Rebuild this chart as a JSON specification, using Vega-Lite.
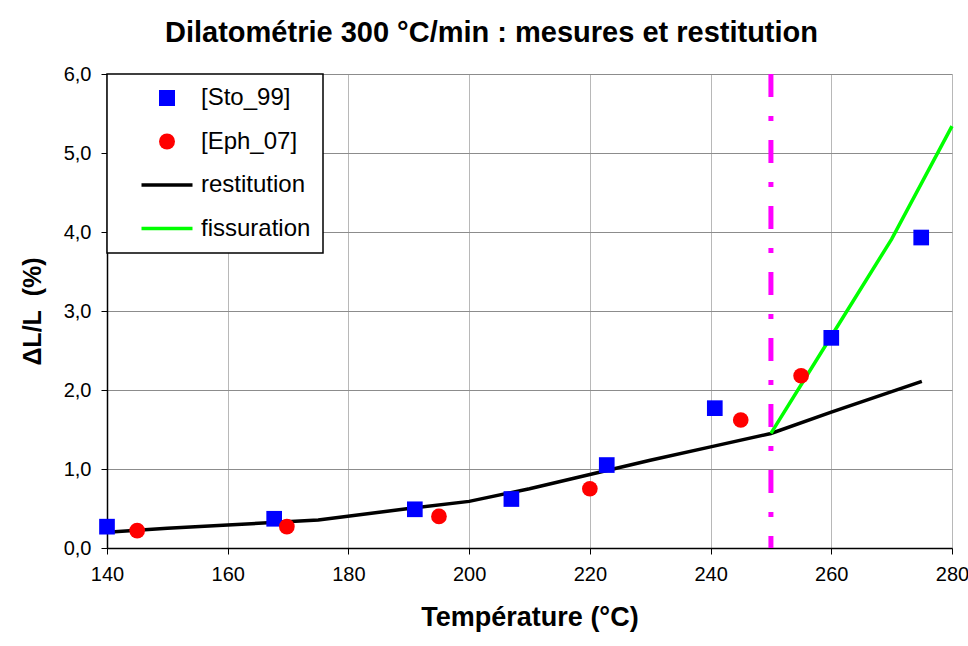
{
  "$schema": "https://vega.github.io/schema/vega-lite/v6.json",
  "width": 845,
  "height": 474,
  "autosize": "none",
  "padding": {"left": 107, "top": 74, "right": 16, "bottom": 98},
  "background": "white",
  "title": {
    "text": "Dilatométrie 300 °C/min : mesures et restitution",
    "font": "Liberation Sans",
    "fontSize": 29,
    "fontWeight": "bold",
    "color": "black",
    "anchor": "middle",
    "dx": -38,
    "offset": 16
  },
  "data": {
    "values": [
      {"series": "[Sto_99]", "T": 140, "v": 0.27},
      {"series": "[Sto_99]", "T": 167.7, "v": 0.37},
      {"series": "[Sto_99]", "T": 191, "v": 0.49},
      {"series": "[Sto_99]", "T": 207, "v": 0.62},
      {"series": "[Sto_99]", "T": 222.8, "v": 1.05},
      {"series": "[Sto_99]", "T": 240.7, "v": 1.77},
      {"series": "[Sto_99]", "T": 260, "v": 2.66},
      {"series": "[Sto_99]", "T": 274.9, "v": 3.93},
      {"series": "[Eph_07]", "T": 145, "v": 0.22},
      {"series": "[Eph_07]", "T": 169.8, "v": 0.27},
      {"series": "[Eph_07]", "T": 195, "v": 0.40},
      {"series": "[Eph_07]", "T": 220, "v": 0.75},
      {"series": "[Eph_07]", "T": 245, "v": 1.62},
      {"series": "[Eph_07]", "T": 255, "v": 2.18},
      {"series": "restitution", "T": 140, "v": 0.20},
      {"series": "restitution", "T": 150, "v": 0.25},
      {"series": "restitution", "T": 160, "v": 0.29},
      {"series": "restitution", "T": 175, "v": 0.355},
      {"series": "restitution", "T": 190, "v": 0.50},
      {"series": "restitution", "T": 200, "v": 0.59},
      {"series": "restitution", "T": 210, "v": 0.75},
      {"series": "restitution", "T": 220, "v": 0.93},
      {"series": "restitution", "T": 230, "v": 1.11},
      {"series": "restitution", "T": 240, "v": 1.28},
      {"series": "restitution", "T": 250, "v": 1.45},
      {"series": "restitution", "T": 260, "v": 1.72},
      {"series": "restitution", "T": 270, "v": 1.98},
      {"series": "restitution", "T": 275, "v": 2.11},
      {"series": "fissuration", "T": 250, "v": 1.45},
      {"series": "fissuration", "T": 260, "v": 2.68},
      {"series": "fissuration", "T": 270, "v": 3.91},
      {"series": "fissuration", "T": 280, "v": 5.34},
      {"series": "seuil", "T": 250}
    ]
  },
  "encoding": {
    "x": {
      "field": "T",
      "type": "quantitative",
      "scale": {"domain": [140, 280], "nice": false, "zero": false},
      "axis": {
        "title": "Température (°C)",
        "values": [140, 160, 180, 200, 220, 240, 260, 280],
        "format": "d",
        "labelFlush": false,
        "gridColor": "#b8b8b8",
        "gridWidth": 1,
        "domainColor": "black",
        "domainWidth": 1.5,
        "tickColor": "black",
        "tickSize": 6,
        "tickWidth": 1,
        "labelFont": "Liberation Sans",
        "labelFontSize": 20,
        "labelColor": "black",
        "labelPadding": 10,
        "titleFont": "Liberation Sans",
        "titleFontSize": 27,
        "titleFontWeight": "bold",
        "titleColor": "black",
        "titlePadding": 20
      }
    },
    "y": {
      "field": "v",
      "type": "quantitative",
      "scale": {"domain": [0, 6], "nice": false},
      "axis": {
        "title": "ΔL/L\u00a0\u00a0(%)",
        "values": [0, 1, 2, 3, 4, 5, 6],
        "labelExpr": "replace(format(datum.value, '.1f'), '.', ',')",
        "labelFlush": false,
        "gridColor": "#8c8c8c",
        "gridWidth": 1,
        "domainColor": "black",
        "domainWidth": 1.5,
        "tickColor": "black",
        "tickSize": 6,
        "tickWidth": 1,
        "labelFont": "Liberation Sans",
        "labelFontSize": 20,
        "labelColor": "black",
        "labelPadding": 10,
        "titleFont": "Liberation Sans",
        "titleFontSize": 25,
        "titleFontWeight": "bold",
        "titleColor": "black",
        "titlePadding": 18
      }
    }
  },
  "layer": [
    {
      "transform": [{"filter": "datum.series === 'restitution' || datum.series === 'fissuration'"}],
      "mark": {"type": "line", "strokeWidth": 3.5},
      "encoding": {
        "detail": {"field": "series"},
        "color": {
          "field": "series",
          "type": "nominal",
          "scale": {
            "domain": ["[Sto_99]", "[Eph_07]", "restitution", "fissuration"],
            "range": ["#0000ff", "#ff0000", "#000000", "#00ff00"]
          },
          "legend": {
            "title": null,
            "orient": "none",
            "legendX": 0,
            "legendY": 0,
            "padding": 12,
            "symbolOffset": 36,
            "labelOffset": 22,
            "symbolSize": 256,
            "rowPadding": 19.5,
            "labelFont": "Liberation Sans",
            "labelFontSize": 24,
            "labelColor": "black",
            "labelLimit": 300,
            "encode": {
              "legend": {"update": {"fill": {"value": "white"}, "stroke": {"value": "black"}, "strokeWidth": {"value": 1.5}}},
              "symbols": {
                "update": {
                  "fill": {"scale": "color", "field": "value"},
                  "stroke": {"scale": "color", "field": "value"},
                  "fillOpacity": {"value": 1},
                  "strokeOpacity": {"value": 1},
                  "strokeWidth": {"signal": "datum.value === 'restitution' || datum.value === 'fissuration' ? 3.5 : 0"},
                  "size": {"signal": "datum.value === 'restitution' || datum.value === 'fissuration' ? 2601 : 256"}
                }
              }
            }
          }
        },
        "shape": {
          "field": "series",
          "type": "nominal",
          "scale": {
            "domain": ["[Sto_99]", "[Eph_07]", "restitution", "fissuration"],
            "range": ["square", "circle", "stroke", "stroke"]
          }
        }
      }
    },
    {
      "transform": [{"filter": "datum.series === 'seuil'"}],
      "mark": {"type": "rule", "color": "#ff00ff", "strokeWidth": 5, "strokeDash": [23, 19, 5, 19]},
      "encoding": {"x": {"field": "T", "type": "quantitative"}, "y": {"value": 0}, "y2": {"value": 474}}
    },
    {
      "transform": [{"filter": "datum.series === '[Sto_99]' || datum.series === '[Eph_07]'"}],
      "mark": {"type": "point", "filled": true, "size": 246, "opacity": 1},
      "encoding": {
        "color": {"field": "series", "type": "nominal"},
        "shape": {"field": "series", "type": "nominal"}
      }
    }
  ],
  "config": {
    "view": {"stroke": null},
    "axis": {"gridDash": []}
  }
}
